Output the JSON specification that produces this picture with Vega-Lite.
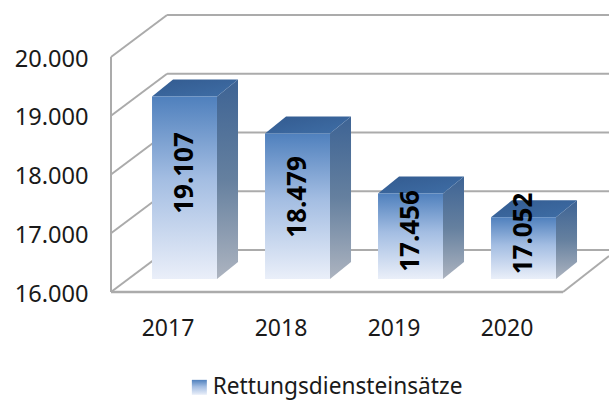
{
"$schema":"https://vega.github.io/schema/vega-lite/v6.json",
"width":498,"height":278,
"autosize":{"type":"none"},
"padding":{"left":111,"top":14,"right":0,"bottom":109},
"background":"white",
"config":{"view":{"stroke":null},"font":"Noto Sans"},
"datasets":{
"bars":[
{"year":2017,"value":19107},
{"year":2018,"value":18479},
{"year":2019,"value":17456},
{"year":2020,"value":17052}],
"grid":[{"tick":16000},{"tick":17000},{"tick":18000},{"tick":19000},{"tick":20000}]
},
"layer":[
{"data":{"name":"grid"},
 "transform":[{"calculate":"datum.tick+715","as":"back"}],
 "mark":{"type":"rule","stroke":"#ababab","strokeWidth":2},
 "encoding":{
  "x":{"datum":2016.996,"type":"quantitative","scale":{"domain":[2016.5,2020.907],"nice":false,"zero":false},
   "axis":{"values":[2017,2018,2019,2020],"format":"d","title":null,"grid":false,"domain":false,"ticks":false,"labelFont":"Noto Sans","labelFontSize":23,"labelColor":"#1a1a1a","labelPadding":25}},
  "x2":{"datum":2020.907},
  "y":{"field":"back","type":"quantitative","scale":{"domain":[16000,20732],"nice":false,"zero":false},
   "axis":{"values":[16000,17000,18000,19000,20000],"labelExpr":"replace(format(datum.value,','),',','.')","title":null,"grid":false,"domain":false,"ticks":false,"labelFont":"Noto Sans","labelFontSize":23.6,"labelColor":"#1a1a1a","labelPadding":23,"labelOffset":2}}
 }},
{"data":{"name":"grid"},
 "transform":[{"calculate":"datum.tick+715","as":"back"}],
 "mark":{"type":"rule","stroke":"#ababab","strokeWidth":2},
 "encoding":{
  "x":{"datum":2016.5,"type":"quantitative"},
  "x2":{"datum":2016.996},
  "y":{"field":"tick","type":"quantitative"},
  "y2":{"field":"back"}
 }},
{"mark":{"type":"rule","stroke":"#ababab","strokeWidth":2},
 "data":{"values":[{"a":16000,"b":20000}]},
 "encoding":{
  "x":{"datum":2016.5,"type":"quantitative"},
  "y":{"field":"a","type":"quantitative"},
  "y2":{"field":"b"}
 }},
{"mark":{"type":"rule","stroke":"#ababab","strokeWidth":2.5},
 "data":{"values":[{"a":16000}]},
 "encoding":{
  "x":{"datum":2016.5,"type":"quantitative"},
  "x2":{"datum":2020.5},
  "y":{"field":"a","type":"quantitative"}
 }},
{"mark":{"type":"rule","stroke":"#ababab","strokeWidth":2},
 "data":{"values":[{"a":16000,"b":16613}]},
 "encoding":{
  "x":{"datum":2020.5,"type":"quantitative"},
  "x2":{"datum":2020.907},
  "y":{"field":"a","type":"quantitative"},
  "y2":{"field":"b"}
 }},
{"data":{"name":"bars"},
 "transform":[
  {"fold":["year","value"],"as":["k","unused"]},
  {"calculate":"datum.k=='year'?datum.year+0.438:datum.year+0.624","as":"px"},
  {"calculate":"(datum.k=='year'?0:289)+datum.value+221","as":"py"},
  {"calculate":"(datum.k=='year'?0:289)+16221","as":"py2"}],
 "mark":{"type":"area","line":false,"fill":{"gradient":"linear","x1":0,"y1":0,"x2":0,"y2":1,"stops":[
   {"offset":0,"color":"#3d6394"},{"offset":0.5,"color":"#65809f"},{"offset":1,"color":"#adb4c0"}]}},
 "encoding":{
  "x":{"field":"px","type":"quantitative"},
  "y":{"field":"py","type":"quantitative"},
  "y2":{"field":"py2"},
  "detail":{"field":"year"}
 }},
{"data":{"name":"bars"},
 "transform":[
  {"calculate":"16221+datum.value-16000","as":"top"},
  {"fold":["year","value","top","extra"],"as":["k","unused"]},
  {"calculate":"datum.k=='year'?datum.year-0.137:datum.k=='value'?datum.year+0.049:datum.k=='top'?datum.year+0.438:datum.year+0.624","as":"px"},
  {"calculate":"datum.value+221+(datum.k=='year'?0:289)","as":"py"},
  {"calculate":"datum.value+221+(datum.k=='extra'?289:0)","as":"py2"}],
 "mark":{"type":"area","line":false,"fill":{"gradient":"linear","x1":0,"y1":0,"x2":1,"y2":1,"stops":[
   {"offset":0,"color":"#335b90"},{"offset":1,"color":"#3f6ea6"}]}},
 "encoding":{
  "x":{"field":"px","type":"quantitative"},
  "y":{"field":"py","type":"quantitative"},
  "y2":{"field":"py2"},
  "detail":{"field":"year"}
 }},
{"data":{"name":"bars"},
 "transform":[
  {"calculate":"datum.year-0.137","as":"xl"},
  {"calculate":"datum.year+0.438","as":"xr"},
  {"calculate":"datum.value+221","as":"top"},
  {"calculate":"16221","as":"base"},
  {"calculate":"'Rettungsdiensteinsätze'","as":"series"}],
 "mark":{"type":"rect"},
 "encoding":{
  "x":{"field":"xl","type":"quantitative"},
  "x2":{"field":"xr"},
  "y":{"field":"top","type":"quantitative"},
  "y2":{"field":"base"},
  "color":{"field":"series","type":"nominal",
   "scale":{"range":[{"expr":"{gradient:'linear',x1:0,y1:0,x2:0,y2:1,stops:[{offset:0,color:'#4f80bd'},{offset:0.45,color:'#a3bde2'},{offset:1,color:'#eaeff9'}]}"}]},
   "legend":{"orient":"none","legendX":77,"legendY":362,"title":null,"symbolType":"square","symbolSize":225,"symbolStrokeWidth":0,"labelFont":"Noto Sans","labelFontSize":22.7,"labelLimit":400,"labelColor":"#1a1a1a","labelOffset":2,"padding":0}}
 }},
{"data":{"name":"bars"},
 "transform":[
  {"calculate":"datum.year==2017?2026:datum.year==2018?1617:datum.year==2019?1038:996","as":"lift"},
  {"calculate":"16000+datum.lift","as":"ly"},
  {"calculate":"datum.year+0.155","as":"lx"},
  {"calculate":"replace(format(datum.value,','),',','.')","as":"lab"}],
 "mark":{"type":"text","angle":270,"font":"Noto Sans","fontWeight":"bold","fontSize":26,"color":"#000000","align":"center","baseline":"middle"},
 "encoding":{
  "x":{"field":"lx","type":"quantitative"},
  "y":{"field":"ly","type":"quantitative"},
  "text":{"field":"lab","type":"nominal"}
 }}
]
}
